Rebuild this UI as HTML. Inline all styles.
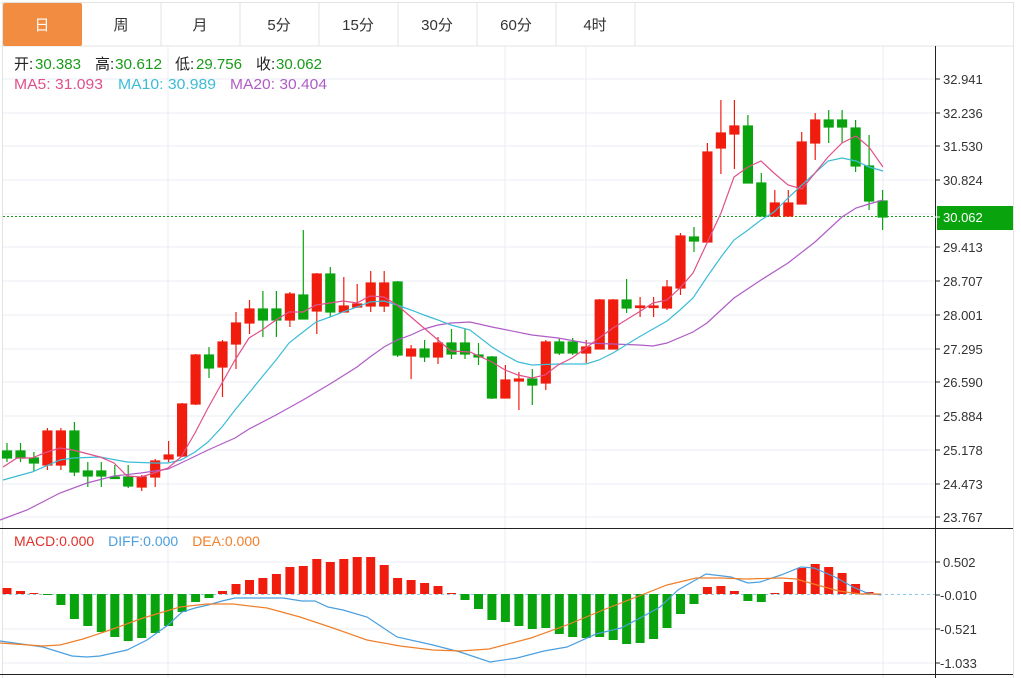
<!DOCTYPE html>
<html><head><meta charset="utf-8"><style>
body{margin:0;width:1021px;height:678px;overflow:hidden;background:#fff;font-family:"Liberation Sans","Noto Sans CJK SC",sans-serif}
svg{position:absolute;left:0;top:0}
</style></head><body>
<svg width="1021" height="678" viewBox="0 0 1021 678" xmlns="http://www.w3.org/2000/svg" font-family="Liberation Sans, Noto Sans CJK SC, sans-serif">
<!-- tabs -->
<rect x="2.5" y="2.5" width="1011" height="43.5" fill="#fff" stroke="#e3e3e3"/>
<rect x="3" y="3" width="79" height="43" rx="2" fill="#f28c40"/>
<g stroke="#e3e3e3"><line x1="161" y1="3" x2="161" y2="46"/><line x1="240" y1="3" x2="240" y2="46"/><line x1="319" y1="3" x2="319" y2="46"/><line x1="398" y1="3" x2="398" y2="46"/><line x1="477" y1="3" x2="477" y2="46"/><line x1="556" y1="3" x2="556" y2="46"/><line x1="635" y1="3" x2="635" y2="46"/></g>
<g font-size="15" text-anchor="middle" fill="#333"><text x="42" y="30" fill="#fff">日</text><text x="121" y="30">周</text><text x="200" y="30">月</text><text x="279" y="30">5分</text><text x="358" y="30">15分</text><text x="437" y="30">30分</text><text x="516" y="30">60分</text><text x="595" y="30">4时</text></g>
<!-- frame -->
<line x1="2.5" y1="46" x2="2.5" y2="678" stroke="#e3e3e3"/>
<line x1="1013.5" y1="46" x2="1013.5" y2="678" stroke="#e3e3e3"/>
<!-- grid -->
<g stroke="#e8eef3" stroke-width="1">
<line x1="3" y1="79" x2="935" y2="79"/><line x1="3" y1="113" x2="935" y2="113"/><line x1="3" y1="146" x2="935" y2="146"/><line x1="3" y1="180" x2="935" y2="180"/><line x1="3" y1="214" x2="935" y2="214"/><line x1="3" y1="247" x2="935" y2="247"/><line x1="3" y1="281" x2="935" y2="281"/><line x1="3" y1="315" x2="935" y2="315"/><line x1="3" y1="349" x2="935" y2="349"/><line x1="3" y1="382" x2="935" y2="382"/><line x1="3" y1="416" x2="935" y2="416"/><line x1="3" y1="450" x2="935" y2="450"/><line x1="3" y1="484" x2="935" y2="484"/><line x1="3" y1="517" x2="935" y2="517"/>
<line x1="3" y1="562" x2="935" y2="562"/><line x1="3" y1="629" x2="935" y2="629"/><line x1="3" y1="663" x2="935" y2="663"/>
<line x1="168" y1="46" x2="168" y2="678"/><line x1="505" y1="46" x2="505" y2="678"/><line x1="586" y1="46" x2="586" y2="678"/><line x1="883" y1="46" x2="883" y2="678"/>
</g>
<!-- axis -->
<line x1="935.5" y1="46" x2="935.5" y2="678" stroke="#222"/>
<line x1="0" y1="528.5" x2="1013" y2="528.5" stroke="#222"/>
<line x1="0" y1="674.5" x2="1013" y2="674.5" stroke="#222"/>
<g stroke="#222"><line x1="935" y1="79" x2="940" y2="79"/><line x1="935" y1="113" x2="940" y2="113"/><line x1="935" y1="146" x2="940" y2="146"/><line x1="935" y1="180" x2="940" y2="180"/><line x1="935" y1="247" x2="940" y2="247"/><line x1="935" y1="281" x2="940" y2="281"/><line x1="935" y1="315" x2="940" y2="315"/><line x1="935" y1="349" x2="940" y2="349"/><line x1="935" y1="382" x2="940" y2="382"/><line x1="935" y1="416" x2="940" y2="416"/><line x1="935" y1="450" x2="940" y2="450"/><line x1="935" y1="484" x2="940" y2="484"/><line x1="935" y1="517" x2="940" y2="517"/><line x1="935" y1="562" x2="940" y2="562"/><line x1="935" y1="595" x2="940" y2="595"/><line x1="935" y1="629" x2="940" y2="629"/><line x1="935" y1="663" x2="940" y2="663"/></g>
<g font-size="13" fill="#333">
<text x="943" y="84">32.941</text><text x="943" y="118">32.236</text><text x="943" y="151">31.530</text><text x="943" y="185">30.824</text><text x="943" y="252">29.413</text><text x="943" y="286">28.707</text><text x="943" y="320">28.001</text><text x="943" y="354">27.295</text><text x="943" y="387">26.590</text><text x="943" y="421">25.884</text><text x="943" y="455">25.178</text><text x="943" y="489">24.473</text><text x="943" y="522">23.767</text>
<text x="943" y="567">0.502</text><text x="940" y="600">-0.010</text><text x="940" y="634">-0.521</text><text x="940" y="668">-1.033</text>
</g>
<!-- current price -->
<line x1="3" y1="216.5" x2="935" y2="216.5" stroke="#1a9a1a" stroke-dasharray="2,2"/>
<rect x="937" y="206" width="76" height="24" fill="#09a30e"/>
<line x1="935" y1="217" x2="940" y2="217" stroke="#fff"/>
<text x="943" y="222" font-size="13" fill="#fff">30.062</text>
<!-- legend -->
<g font-size="15">
<text x="14" y="69" fill="#222">开:</text><text x="35" y="69" fill="#1a9a1a" textLength="46" lengthAdjust="spacingAndGlyphs">30.383</text>
<text x="95" y="69" fill="#222">高:</text><text x="115" y="69" fill="#1a9a1a" textLength="47" lengthAdjust="spacingAndGlyphs">30.612</text>
<text x="175" y="69" fill="#222">低:</text><text x="196" y="69" fill="#1a9a1a" textLength="46" lengthAdjust="spacingAndGlyphs">29.756</text>
<text x="256" y="69" fill="#222">收:</text><text x="276" y="69" fill="#1a9a1a" textLength="46" lengthAdjust="spacingAndGlyphs">30.062</text>
<text x="14" y="89" fill="#e0508a" textLength="89" lengthAdjust="spacingAndGlyphs">MA5: 31.093</text>
<text x="118" y="89" fill="#3cbcd6" textLength="98" lengthAdjust="spacingAndGlyphs">MA10: 30.989</text>
<text x="230" y="89" fill="#b05cc6" textLength="97" lengthAdjust="spacingAndGlyphs">MA20: 30.404</text>
</g>
<g font-size="14">
<text x="14" y="546" fill="#e0302a">MACD:0.000<tspan dx="14" fill="#4a9fe0">DIFF:0.000</tspan><tspan dx="14" fill="#f07f2a">DEA:0.000</tspan></text>
</g>
<!-- candles red -->
<g stroke="#f01d0e" fill="#f01d0e" stroke-width="1.2">
<line x1="47.4" y1="428" x2="47.4" y2="470"/><rect x="42.9" y="431" width="9" height="34"/>
<line x1="60.9" y1="428" x2="60.9" y2="470"/><rect x="56.4" y="431" width="9" height="34"/>
<line x1="141.7" y1="475" x2="141.7" y2="491"/><rect x="137.2" y="477" width="9" height="10"/>
<line x1="155.2" y1="459" x2="155.2" y2="487"/><rect x="150.7" y="461" width="9" height="16"/>
<line x1="168.6" y1="441" x2="168.6" y2="462"/><rect x="164.1" y="455" width="9" height="4"/>
<line x1="182.1" y1="403" x2="182.1" y2="457"/><rect x="177.6" y="404" width="9" height="52"/>
<line x1="195.6" y1="354" x2="195.6" y2="405"/><rect x="191.1" y="355" width="9" height="49"/>
<line x1="222.5" y1="340" x2="222.5" y2="397"/><rect x="218" y="342" width="9" height="25"/>
<line x1="236" y1="312" x2="236" y2="369"/><rect x="231.5" y="323" width="9" height="21"/>
<line x1="249.5" y1="300" x2="249.5" y2="334"/><rect x="245" y="309" width="9" height="14"/>
<line x1="289.9" y1="292" x2="289.9" y2="327"/><rect x="285.4" y="294" width="9" height="26"/>
<line x1="316.8" y1="273" x2="316.8" y2="334"/><rect x="312.3" y="274" width="9" height="37"/>
<line x1="343.8" y1="277" x2="343.8" y2="312"/><rect x="339.3" y="306" width="9" height="6"/>
<line x1="357.2" y1="284" x2="357.2" y2="308"/><rect x="352.7" y="304" width="9" height="3"/>
<line x1="370.7" y1="271" x2="370.7" y2="312"/><rect x="366.2" y="283" width="9" height="23"/>
<line x1="384.2" y1="271" x2="384.2" y2="312"/><rect x="379.7" y="283" width="9" height="23"/>
<line x1="411.1" y1="345" x2="411.1" y2="379"/><rect x="406.6" y="349" width="9" height="7"/>
<line x1="438" y1="337" x2="438" y2="364"/><rect x="433.5" y="343" width="9" height="14"/>
<line x1="505.4" y1="365" x2="505.4" y2="398"/><rect x="500.9" y="380" width="9" height="18"/>
<line x1="518.9" y1="372" x2="518.9" y2="410"/><rect x="514.4" y="379" width="9" height="2"/>
<line x1="545.8" y1="340" x2="545.8" y2="390"/><rect x="541.3" y="342" width="9" height="41"/>
<line x1="586.2" y1="340" x2="586.2" y2="363"/><rect x="581.7" y="347" width="9" height="6"/>
<line x1="599.7" y1="299" x2="599.7" y2="349"/><rect x="595.2" y="300" width="9" height="49"/>
<line x1="613.2" y1="299" x2="613.2" y2="349"/><rect x="608.7" y="300" width="9" height="49"/>
<line x1="640.1" y1="297" x2="640.1" y2="317"/><rect x="635.6" y="306" width="9" height="1.5"/>
<line x1="653.6" y1="297" x2="653.6" y2="317"/><rect x="649.1" y="306" width="9" height="1.5"/>
<line x1="667" y1="280" x2="667" y2="310"/><rect x="662.5" y="287" width="9" height="21"/>
<line x1="680.5" y1="233" x2="680.5" y2="295"/><rect x="676" y="236" width="9" height="52"/>
<line x1="707.4" y1="143" x2="707.4" y2="242"/><rect x="702.9" y="152" width="9" height="90"/>
<line x1="720.9" y1="100" x2="720.9" y2="174"/><rect x="716.4" y="133" width="9" height="15"/>
<line x1="734.4" y1="100" x2="734.4" y2="169"/><rect x="729.9" y="126" width="9" height="8"/>
<line x1="774.8" y1="190" x2="774.8" y2="217"/><rect x="770.3" y="203" width="9" height="13"/>
<line x1="788.3" y1="190" x2="788.3" y2="217"/><rect x="783.8" y="203" width="9" height="13"/>
<line x1="801.7" y1="132" x2="801.7" y2="204"/><rect x="797.2" y="142" width="9" height="62"/>
<line x1="815.2" y1="113" x2="815.2" y2="160"/><rect x="810.7" y="120" width="9" height="23"/>
</g>
<!-- candles green -->
<g stroke="#09a30e" fill="#09a30e" stroke-width="1.2">
<line x1="7" y1="443" x2="7" y2="462"/><rect x="2.5" y="451" width="9" height="7"/>
<line x1="20.5" y1="443" x2="20.5" y2="462"/><rect x="16" y="451" width="9" height="7"/>
<line x1="33.9" y1="452" x2="33.9" y2="471"/><rect x="29.4" y="458" width="9" height="5"/>
<line x1="74.4" y1="422" x2="74.4" y2="476"/><rect x="69.9" y="431" width="9" height="41"/>
<line x1="87.8" y1="462" x2="87.8" y2="487"/><rect x="83.3" y="471" width="9" height="5"/>
<line x1="101.3" y1="462" x2="101.3" y2="487"/><rect x="96.8" y="471" width="9" height="5"/>
<line x1="114.8" y1="465" x2="114.8" y2="479"/><rect x="110.3" y="477" width="9" height="1.5"/>
<line x1="128.2" y1="465" x2="128.2" y2="488"/><rect x="123.7" y="477" width="9" height="9"/>
<line x1="209" y1="347" x2="209" y2="378"/><rect x="204.5" y="355" width="9" height="13"/>
<line x1="262.9" y1="291" x2="262.9" y2="337"/><rect x="258.4" y="309" width="9" height="11"/>
<line x1="276.4" y1="291" x2="276.4" y2="337"/><rect x="271.9" y="309" width="9" height="11"/>
<line x1="303.3" y1="230" x2="303.3" y2="319"/><rect x="298.8" y="295" width="9" height="24"/>
<line x1="330.3" y1="267" x2="330.3" y2="317"/><rect x="325.8" y="274" width="9" height="38"/>
<line x1="397.6" y1="281" x2="397.6" y2="357"/><rect x="393.1" y="282" width="9" height="73"/>
<line x1="424.6" y1="340" x2="424.6" y2="362"/><rect x="420.1" y="349" width="9" height="8"/>
<line x1="451.5" y1="329" x2="451.5" y2="359"/><rect x="447" y="343" width="9" height="11"/>
<line x1="465" y1="329" x2="465" y2="359"/><rect x="460.5" y="343" width="9" height="11"/>
<line x1="478.5" y1="343" x2="478.5" y2="365"/><rect x="474" y="355" width="9" height="2"/>
<line x1="491.9" y1="356" x2="491.9" y2="399"/><rect x="487.4" y="357" width="9" height="41"/>
<line x1="532.3" y1="369" x2="532.3" y2="405"/><rect x="527.8" y="379" width="9" height="6"/>
<line x1="559.3" y1="338" x2="559.3" y2="355"/><rect x="554.8" y="342" width="9" height="11"/>
<line x1="572.7" y1="338" x2="572.7" y2="355"/><rect x="568.2" y="342" width="9" height="11"/>
<line x1="626.6" y1="279" x2="626.6" y2="313"/><rect x="622.1" y="300" width="9" height="8"/>
<line x1="694" y1="227" x2="694" y2="252"/><rect x="689.5" y="237" width="9" height="4"/>
<line x1="747.9" y1="115" x2="747.9" y2="183"/><rect x="743.4" y="126" width="9" height="57"/>
<line x1="761.3" y1="173" x2="761.3" y2="216"/><rect x="756.8" y="183" width="9" height="33"/>
<line x1="828.7" y1="110" x2="828.7" y2="143"/><rect x="824.2" y="120" width="9" height="7"/>
<line x1="842.1" y1="110" x2="842.1" y2="143"/><rect x="837.6" y="120" width="9" height="7"/>
<line x1="855.6" y1="120" x2="855.6" y2="172"/><rect x="851.1" y="128" width="9" height="38"/>
<line x1="869.1" y1="135" x2="869.1" y2="210"/><rect x="864.6" y="166" width="9" height="35"/>
<line x1="882.6" y1="190" x2="882.6" y2="230"/><rect x="878.1" y="201" width="9" height="16"/>
</g>
<!-- MAs -->
<g fill="none" stroke-width="1.2">
<polyline stroke="#b05cc6" points="0,520 27,510 60,493 87,483 114,476 141,473 168,469 181,463 208,450 235,438 249,429 276,415 303,400 330,384 357,367 370,357 384,347 397,340 411,335 424,329 438,325 451,323 470,322 492,327 532,335 558,338 586,343 613,344 639,345 653,346 667,343 693,332 707,323 734,298 761,280 788,263 815,242 842,217 856,208 869,204 883,200"/>
<polyline stroke="#3cbcd6" points="3,480 32,472 60,460 73,458 100,457 127,462 154,463 168,463 181,460 195,452 208,442 222,427 235,410 249,393 262,377 276,360 289,343 303,332 316,322 330,317 343,312 357,307 370,302 384,301 397,305 411,310 424,315 438,320 451,325 470,330 492,347 505,355 518,362 532,365 558,364 586,364 599,360 613,353 626,345 639,337 653,329 667,321 680,310 693,298 707,277 721,257 734,240 748,230 761,220 774,212 788,198 802,185 815,173 828,161 842,158 856,161 869,167 883,171"/>
<polyline stroke="#e0508a" points="3,467 17,458 32,458 47,452 60,448 73,450 100,457 114,463 127,476 141,477 154,473 168,468 181,457 195,433 208,408 222,383 235,360 249,338 262,330 276,320 289,312 303,312 316,305 330,303 343,301 357,303 370,296 384,297 397,305 411,317 424,328 438,340 451,351 470,352 492,362 505,370 518,375 532,378 545,375 558,365 572,358 586,348 599,338 613,328 626,320 639,312 653,303 667,300 680,288 693,273 707,243 721,213 734,177 748,167 761,161 774,173 788,185 802,189 815,173 828,157 842,143 856,136 869,147 883,167"/>
</g>
<!-- MACD zero -->
<line x1="3" y1="594.5" x2="935" y2="594.5" stroke="#8fc9e6" stroke-dasharray="3,3"/>
<g fill="#f01d0e">
<rect x="2.5" y="588" width="9" height="6"/><rect x="16" y="591" width="9" height="3"/><rect x="29.4" y="593" width="9" height="1"/>
<rect x="218" y="591" width="9" height="3"/><rect x="231.5" y="584" width="9" height="10"/><rect x="245" y="580" width="9" height="14"/><rect x="258.4" y="578" width="9" height="16"/><rect x="271.9" y="574" width="9" height="20"/><rect x="285.4" y="567" width="9" height="27"/><rect x="298.8" y="566" width="9" height="28"/><rect x="312.3" y="559" width="9" height="35"/><rect x="325.8" y="562" width="9" height="32"/><rect x="339.3" y="559" width="9" height="35"/><rect x="352.7" y="557" width="9" height="37"/><rect x="366.2" y="557" width="9" height="37"/><rect x="379.7" y="565" width="9" height="29"/><rect x="393.1" y="578" width="9" height="16"/><rect x="406.6" y="580" width="9" height="14"/><rect x="420.1" y="583" width="9" height="11"/><rect x="433.5" y="586" width="9" height="8"/><rect x="447" y="593" width="9" height="1"/>
<rect x="702.9" y="587" width="9" height="7"/><rect x="716.4" y="586" width="9" height="8"/><rect x="729.9" y="591" width="9" height="3"/>
<rect x="770.3" y="593" width="9" height="1"/><rect x="783.8" y="582" width="9" height="12"/><rect x="797.2" y="568" width="9" height="26"/><rect x="810.7" y="564" width="9" height="30"/><rect x="824.2" y="567" width="9" height="27"/><rect x="837.6" y="573" width="9" height="21"/><rect x="851.1" y="584" width="9" height="10"/><rect x="864.6" y="592" width="9" height="2"/>
</g>
<g fill="#09a30e">
<rect x="42.9" y="594" width="9" height="1"/><rect x="56.4" y="594" width="9" height="11"/><rect x="69.9" y="594" width="9" height="25"/><rect x="83.3" y="594" width="9" height="32"/><rect x="96.8" y="594" width="9" height="38"/><rect x="110.3" y="594" width="9" height="43"/><rect x="123.7" y="594" width="9" height="47"/><rect x="137.2" y="594" width="9" height="44"/><rect x="150.7" y="594" width="9" height="39"/><rect x="164.1" y="594" width="9" height="32"/><rect x="177.6" y="594" width="9" height="18"/><rect x="191.1" y="594" width="9" height="8"/><rect x="204.5" y="594" width="9" height="4"/>
<rect x="460.5" y="594" width="9" height="6"/><rect x="474" y="594" width="9" height="15"/><rect x="487.4" y="594" width="9" height="26"/><rect x="500.9" y="594" width="9" height="28"/><rect x="514.4" y="594" width="9" height="32"/><rect x="527.8" y="594" width="9" height="35"/><rect x="541.3" y="594" width="9" height="34"/><rect x="554.8" y="594" width="9" height="40"/><rect x="568.2" y="594" width="9" height="43"/><rect x="581.7" y="594" width="9" height="44"/><rect x="595.2" y="594" width="9" height="43"/><rect x="608.7" y="594" width="9" height="46"/><rect x="622.1" y="594" width="9" height="50"/><rect x="635.6" y="594" width="9" height="49"/><rect x="649.1" y="594" width="9" height="45"/><rect x="662.5" y="594" width="9" height="34"/><rect x="676" y="594" width="9" height="20"/><rect x="689.5" y="594" width="9" height="10"/>
<rect x="743.4" y="594" width="9" height="7"/><rect x="756.8" y="594" width="9" height="8"/>
</g>
<g fill="none" stroke-width="1.2">
<polyline stroke="#4a9fe0" points="0,641 43,647 72,656 87,657 100,656 127,650 147,640 168,625 182,612 195,608 208,605 222,601 235,598 250,598 283,598 302,601 315,601 328,607 343,610 367,617 397,637 433,645 460,652 490,662 517,658 544,651 567,647 596,634 621,628 642,617 660,607 678,590 706,574 731,577 748,583 760,582 781,575 801,567 814,568 835,577 853,587 867,593 881,595"/>
<polyline stroke="#f07f2a" points="0,643 43,646 60,645 83,639 110,630 143,618 180,607 207,604 233,604 267,608 300,617 333,628 367,640 400,646 433,650 460,651 489,649 531,638 567,625 603,610 639,596 667,585 696,578 721,578 746,579 781,578 796,579 817,585 839,591 860,594 881,594"/>
</g>
</svg>
</body></html>
